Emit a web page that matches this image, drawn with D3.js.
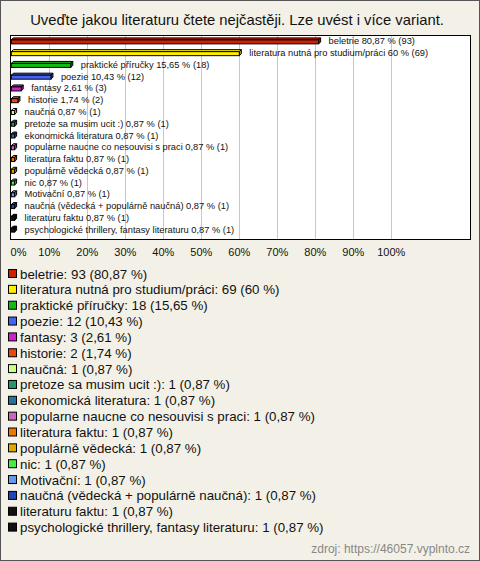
<!DOCTYPE html>
<html><head><meta charset="utf-8">
<script src="https://cdn.jsdelivr.net/npm/d3@7"></script>
<style>
html,body{margin:0;padding:0;background:#fff;}
svg{display:block;font-family:"Liberation Sans",Arial,sans-serif;}
</style></head>
<body>
<script>
const title = "Uveďte jakou literaturu čtete nejčastěji. Lze uvést i více variant.";
const categories = ["beletrie","literatura nutná pro studium/práci","praktické příručky","poezie","fantasy","historie","naučná","pretoze sa musim ucit :)","ekonomická literatura","popularne naucne co nesouvisi s praci","literatura faktu","populárně vědecká","nic","Motivační","naučná (vědecká + populárně naučná)","literaturu faktu","psychologické thrillery, fantasy literaturu"];
const counts = [93,69,18,12,3,2,1,1,1,1,1,1,1,1,1,1,1];
const percents = [80.87,60,15.65,10.43,2.61,1.74,0.87,0.87,0.87,0.87,0.87,0.87,0.87,0.87,0.87,0.87,0.87];
const percentLabels = ["80,87","60","15,65","10,43","2,61","1,74","0,87","0,87","0,87","0,87","0,87","0,87","0,87","0,87","0,87","0,87","0,87"];
const colors = ["#cc2200","#ffee00","#11bb11","#4466ee","#cc22cc","#ee4411","#ccff88","#229966","#227799","#cc66bb","#ee7700","#ddaa00","#44ee44","#6699ee","#2244bb","#111111","#111111"];
const ticks = [0,10,20,30,40,50,60,70,80,90,100];
const source = "zdroj: https://46057.vyplnto.cz";

const W = 480, H = 561;
const svg = d3.select("body").append("svg").attr("width", W).attr("height", H);
svg.append("rect").attr("x",0.5).attr("y",0.5).attr("width",W-1).attr("height",H-1)
  .attr("fill","#f3f1e7").attr("stroke","#555");

svg.append("text").attr("x",237).attr("y",25).attr("text-anchor","middle")
  .attr("font-size",14.8).attr("fill","#111").text(title);

const box = {x:10.5, y:35.5, w:460, h:204};
svg.append("rect").attr("x",box.x).attr("y",box.y).attr("width",box.w).attr("height",box.h)
  .attr("fill","#fff");

const x = d3.scaleLinear().domain([0,100]).range([11.3,391.3]);
const y = d3.scaleBand().domain(categories).range([35,235]).paddingInner(0.5).paddingOuter(0.25);

svg.append("g").selectAll("line").data(ticks.slice(1)).join("line")
  .attr("x1",d=>Math.round(x(d))+0.5).attr("x2",d=>Math.round(x(d))+0.5)
  .attr("y1",box.y).attr("y2",box.y+box.h).attr("stroke","#c8c8c8");

svg.append("rect").attr("x",box.x).attr("y",box.y).attr("width",box.w).attr("height",box.h)
  .attr("fill","none").attr("stroke","#000");

const depth = 2, bh = 4;
const bars = svg.append("g").selectAll("g").data(categories).join("g");
bars.each(function(c,i){
  const g = d3.select(this);
  const x0 = x(0), x1 = x(percents[i]);
  const yc = y(c) + y.bandwidth()/2;
  const top = yc - bh/2 + 1;
  const col = colors[i];
  const dark = d3.color(col).darker(0.8);
  g.append("path").attr("d",`M${x0},${top}L${x0+depth},${top-depth}L${x1+depth},${top-depth}L${x1},${top}Z`)
    .attr("fill",col).attr("stroke","#000").attr("stroke-width",1);
  g.append("path").attr("d",`M${x1},${top}L${x1+depth},${top-depth}L${x1+depth},${top-depth+bh}L${x1},${top+bh}Z`)
    .attr("fill",dark).attr("stroke","#000").attr("stroke-width",1);
  g.append("rect").attr("x",x0).attr("y",top).attr("width",x1-x0).attr("height",bh)
    .attr("fill",col).attr("stroke","#000").attr("stroke-width",1);
  g.append("text").attr("x",x1+depth+8).attr("y",yc+3.5).attr("font-size",9.3).attr("fill","#111")
    .text(`${c} ${percentLabels[i]} % (${counts[i]})`);
});

svg.append("g").selectAll("text").data(ticks).join("text")
  .attr("x",d=>Math.max(x(d), 18.5)).attr("y",256).attr("text-anchor","middle")
  .attr("font-size",11).attr("fill","#111").text(d=>d+"%");

const ly0 = 274, lstep = 15.85;
const leg = svg.append("g").selectAll("g").data(categories).join("g")
  .attr("transform",(d,i)=>`translate(0,${ly0+i*lstep})`);
leg.append("rect").attr("x",8.5).attr("y",-4.5).attr("width",8).attr("height",8)
  .attr("fill",(d,i)=>colors[i]).attr("stroke","#000");
leg.append("text").attr("x",20).attr("y",4.5).attr("font-size",13.3).attr("fill","#111")
  .text((d,i)=>`${d}: ${counts[i]} (${percentLabels[i]} %)`);

svg.append("text").attr("x",470).attr("y",553).attr("text-anchor","end")
  .attr("font-size",12).attr("fill","#888").text(source);
</script>
</body></html>
